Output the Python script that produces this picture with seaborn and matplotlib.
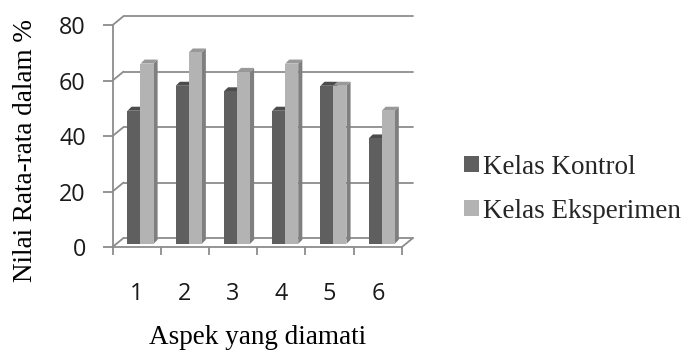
import numpy as np
import pandas as pd
import matplotlib
matplotlib.use("Agg")
import matplotlib.pyplot as plt
from matplotlib.colors import to_rgb
from matplotlib.patches import Polygon
import seaborn as sns

aspek = ["1", "2", "3", "4", "5", "6"]
kontrol = [48, 57, 55, 48, 57, 38]
eksperimen = [65, 69, 62, 65, 57, 48]
kelas = ["Kelas Kontrol", "Kelas Eksperimen"]
y_ticks = [0, 20, 40, 60, 80]

df = pd.DataFrame({
    "aspek": aspek * 2,
    "nilai": kontrol + eksperimen,
    "kelas": [kelas[0]] * len(aspek) + [kelas[1]] * len(aspek),
})

sns.set_theme(style="white")
plt.rcParams["font.family"] = ["Liberation Serif", "DejaVu Serif"]

front = ["#5f5f5f", "#b3b3b3"]
side = ["#3c3c3c", "#7f7f7f"]
top = ["#4c4c4c", "#999999"]
grid_c = "#8c8c8c"

# depth of the back wall and of each bar, in data units (fake excel 3d look)
DX, DY = 0.228, 3.25
BDX, BDY = 0.085, 1.45
SHIFT = 0.35
n = len(aspek)

fig = plt.figure(figsize=(6.82, 3.54), dpi=100)
ax = fig.add_axes([0.165, 0.3023, 0.4405, 0.658])
sns.barplot(data=df, x="aspek", y="nilai", hue="kelas", palette=front,
            width=0.54, saturation=1, ax=ax)
handles, labels = ax.get_legend_handles_labels()
ax.get_legend().remove()

for p in list(ax.patches):
    k = 0 if np.allclose(p.get_facecolor()[:3], to_rgb(front[0]), atol=0.02) else 1
    x = p.get_x() + SHIFT * DX
    y = SHIFT * DY
    w, h = p.get_width(), p.get_height()
    p.set_x(x)
    p.set_y(y)
    p.set_edgecolor("none")
    p.set_zorder(3 + 2 * k)
    p.set_clip_on(False)
    sf = Polygon([(x + w, y), (x + w + BDX, y + BDY), (x + w + BDX, y + h + BDY), (x + w, y + h)],
                 closed=True, facecolor=side[k], edgecolor="none", zorder=2.9 + 2 * k, clip_on=False)
    tf = Polygon([(x, y + h), (x + BDX, y + h + BDY), (x + w + BDX, y + h + BDY), (x + w, y + h)],
                 closed=True, facecolor=top[k], edgecolor="none", zorder=2.9 + 2 * k, clip_on=False)
    ax.add_patch(sf)
    ax.add_patch(tf)

# back wall grid + side wall diagonals
for t in y_ticks:
    ax.plot([-0.5 + DX, n - 0.5 + DX], [t + DY, t + DY], color=grid_c, lw=1.3, zorder=1, clip_on=False)
    ax.plot([-0.5, -0.5 + DX], [t, t + DY], color=grid_c, lw=1.3, zorder=1, clip_on=False)
ax.plot([n - 0.5, n - 0.5 + DX], [0, DY], color=grid_c, lw=1.3, zorder=1, clip_on=False)

ax.set_xlim(-0.5, n - 0.5 + DX)
ax.set_ylim(0, 84)
ax.set_yticks(y_ticks)
ax.set_xticks(np.arange(-0.5, n), minor=True)

for s in ["top", "right"]:
    ax.spines[s].set_visible(False)
ax.spines["left"].set_bounds(0, 80)
ax.spines["bottom"].set_bounds(-0.5, n - 0.5)
for s in ["left", "bottom"]:
    ax.spines[s].set_color(grid_c)
    ax.spines[s].set_linewidth(1.3)

ax.tick_params(axis="y", left=True, length=7.2, width=1.3, color=grid_c, pad=12,
               labelsize=16.8, labelcolor="#1a1a1a")
ax.tick_params(axis="x", which="major", bottom=True, length=0, pad=25,
               labelsize=16.8, labelcolor="#1a1a1a")
ax.tick_params(axis="x", which="minor", bottom=True, length=5.8, width=1.3, color=grid_c)
for lbl in ax.get_xticklabels() + ax.get_yticklabels():
    lbl.set_fontfamily(["Open Sans", "DejaVu Sans"])

ax.set_xlabel("Aspek yang diamati", fontsize=19.5, color="black")
ax.xaxis.set_label_coords(0.482, -0.39)
ax.xaxis.label.set_va("center")
ax.set_ylabel("Nilai Rata-rata dalam %", fontsize=19.5, color="black")
ax.yaxis.set_label_coords(-0.29, 0.416)
ax.yaxis.label.set_va("center")
ax.yaxis.label.set_ha("center")

fig.legend(handles, labels, loc="center left", bbox_to_anchor=(0.68, 0.465),
           frameon=False, fontsize=19.5, handlelength=0.55, handleheight=0.55,
           handletextpad=0.15, labelspacing=0.7, borderpad=0, borderaxespad=0)

fig.savefig("out.png", dpi=100)
